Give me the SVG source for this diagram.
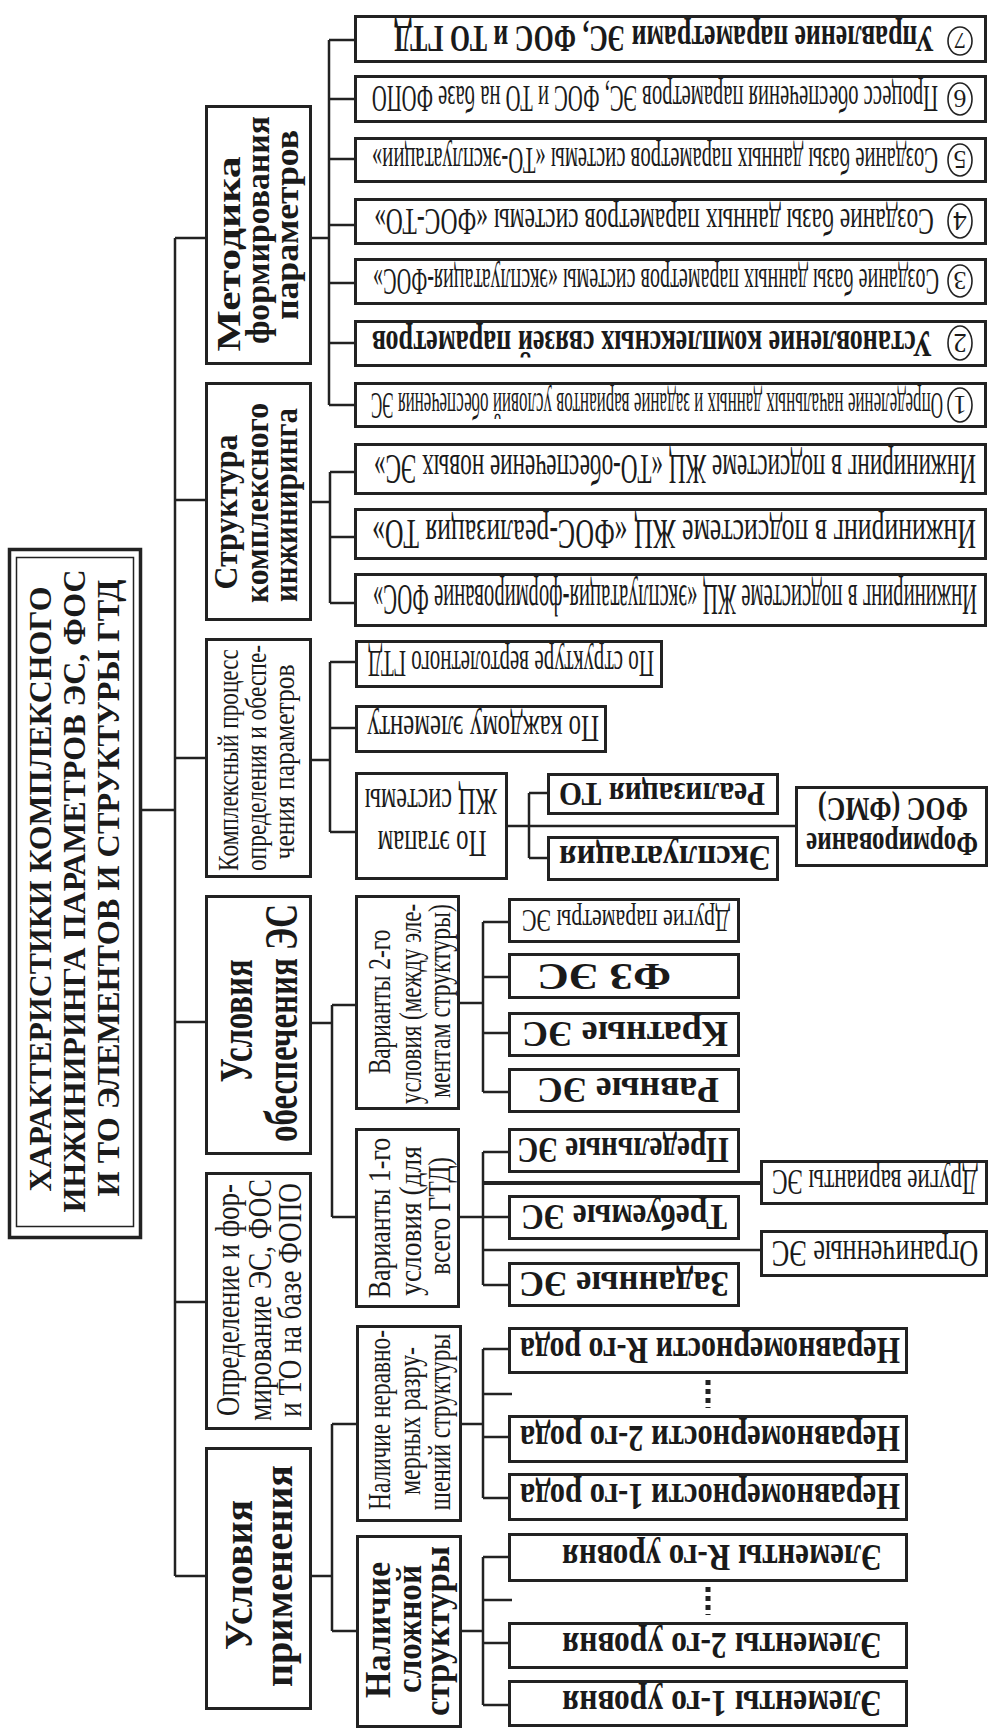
<svg xmlns="http://www.w3.org/2000/svg" width="988" height="1728" viewBox="0 0 988 1728">
<style>
.bg{fill:#fff}
.box{fill:#fff;stroke:#222;stroke-width:3}
.ln{stroke:#222;stroke-width:2.5;fill:none}
.lnb{stroke:#222;stroke-width:4;fill:none}
.dots{stroke:#222;stroke-width:5;stroke-dasharray:5 4;fill:none}
.ov{fill:none;stroke:#222;stroke-width:1.6}
text{font-family:"Liberation Serif","Times New Roman",serif;fill:#1a1a1a;text-anchor:middle}
.b{font-weight:bold}
</style>
<rect class="bg" x="0" y="0" width="988" height="1728"/>

<g id="connectors">
<path class="ln" d="M142 810H175M175 238V1576M175 238H205M175 500H205M175 758H205M175 1022H205M175 1302H205M175 1576H205"/>
<path class="ln" d="M312 238H329M329 40V405M329 40H354M329 99H354M329 159H354M329 225H354M329 283H354M329 343H354M329 405H354"/>
<path class="ln" d="M312 502H330M330 472V603M330 472H354M330 537H354M330 603H354"/>
<path class="ln" d="M312 760H330M330 662V832M330 662H355M330 728H355M330 832H355"/>
<path class="ln" d="M508 826H795M529 793V858M529 793H547M529 858H547"/>
<path class="ln" d="M312 1023H332M332 1005V1217M332 1005H355M332 1217H355"/>
<path class="ln" d="M460 1003H483M483 922V1092M483 922H508M483 977H508M483 1033H508M483 1092H508"/>
<path class="ln" d="M460 1217H483M483 1152V1285M483 1152H508M483 1217H508M483 1285H508M483 1250H760"/>
<path class="lnb" d="M483 1183H760"/>
<path class="ln" d="M312 1576H332M332 1424V1631M332 1424H356M332 1631H356"/>
<path class="ln" d="M462 1424H483M483 1349V1498M483 1349H508M483 1394H512M483 1437H508M483 1498H508"/>
<path class="ln" d="M462 1631H483M483 1557V1705M483 1557H508M483 1600H512M483 1643H508M483 1705H508"/>
<path class="dots" d="M708 1380V1408M708 1587V1615"/>
</g>

<g id="root">
<rect x="9.5" y="549.5" width="131" height="688" fill="#fff" stroke="#222" stroke-width="3.5"/>
<rect x="16.5" y="557.5" width="117" height="669" fill="none" stroke="#222" stroke-width="1.5"/>
<text class="b" font-size="32" transform="translate(51,889) rotate(-90)" textLength="605" lengthAdjust="spacingAndGlyphs">ХАРАКТЕРИСТИКИ КОМПЛЕКСНОГО</text>
<text class="b" font-size="32" transform="translate(85,891) rotate(-90)" textLength="643" lengthAdjust="spacingAndGlyphs">ИНЖИНИРИНГА ПАРАМЕТРОВ  ЭС, ФОС</text>
<text class="b" font-size="32" transform="translate(119,888) rotate(-90)" textLength="617" lengthAdjust="spacingAndGlyphs">И ТО ЭЛЕМЕНТОВ И СТРУКТУРЫ ГТД</text>
</g>

<g id="n-metodika">
<rect class="box" x="206.5" y="106.5" width="104" height="257"/>
<text class="b" font-size="33" transform="translate(240,254) rotate(-90)" textLength="195" lengthAdjust="spacingAndGlyphs">Методика</text>
<text class="b" font-size="33" transform="translate(269,230) rotate(-90)" textLength="228" lengthAdjust="spacingAndGlyphs">формирования</text>
<text class="b" font-size="33" transform="translate(298,225) rotate(-90)" textLength="190" lengthAdjust="spacingAndGlyphs">параметров</text>
</g>

<g id="n-struktura">
<rect class="box" x="206.5" y="383.5" width="104" height="236"/>
<text class="b" font-size="33" transform="translate(237,512) rotate(-90)" textLength="155" lengthAdjust="spacingAndGlyphs">Структура</text>
<text class="b" font-size="33" transform="translate(268,503) rotate(-90)" textLength="200" lengthAdjust="spacingAndGlyphs">комплексного</text>
<text class="b" font-size="33" transform="translate(297,505) rotate(-90)" textLength="194" lengthAdjust="spacingAndGlyphs">инжиниринга</text>
</g>

<g id="n-kompleks">
<rect class="box" x="206.5" y="639.5" width="104" height="237"/>
<text font-size="30" transform="translate(238,760) rotate(-90) scale(0.86,1)" textLength="258" lengthAdjust="spacingAndGlyphs">Комплексный процесс</text>
<text font-size="30" transform="translate(266,758) rotate(-90) scale(0.78,1)" textLength="290" lengthAdjust="spacingAndGlyphs">определения и обеспе-</text>
<text font-size="30" transform="translate(294,762) rotate(-90) scale(0.84,1)" textLength="232" lengthAdjust="spacingAndGlyphs">чения параметров</text>
</g>

<g id="n-usloviya-obesp">
<rect class="box" x="206.5" y="896.5" width="104" height="257"/>
<text class="b" font-size="46" transform="translate(252,1021) rotate(-90) scale(0.7,1)" textLength="176" lengthAdjust="spacingAndGlyphs">Условия</text>
<text class="b" font-size="46" transform="translate(297,1023) rotate(-90) scale(0.7,1)" textLength="340" lengthAdjust="spacingAndGlyphs">обеспечения ЭС</text>
</g>

<g id="n-opredelenie">
<rect class="box" x="206.5" y="1173.5" width="104" height="255"/>
<text font-size="34" transform="translate(239,1300) rotate(-90)" textLength="232" lengthAdjust="spacingAndGlyphs">Определение и фор-</text>
<text font-size="34" transform="translate(271,1300) rotate(-90)" textLength="242" lengthAdjust="spacingAndGlyphs">мирование ЭС, ФОС</text>
<text font-size="34" transform="translate(301,1300) rotate(-90)" textLength="234" lengthAdjust="spacingAndGlyphs">и ТО на базе ФОПО</text>
</g>

<g id="n-usloviya-prim">
<rect class="box" x="206.5" y="1448.5" width="104" height="260"/>
<text class="b" font-size="41" transform="translate(252,1575) rotate(-90)" textLength="150" lengthAdjust="spacingAndGlyphs">Условия</text>
<text class="b" font-size="41" transform="translate(292,1576) rotate(-90)" textLength="222" lengthAdjust="spacingAndGlyphs">применения</text>
</g>

<g id="m7">
<rect class="box" x="355.5" y="16.5" width="630" height="45"/>
<ellipse class="ov" cx="960" cy="41" rx="12" ry="14"/>
<text font-size="24" transform="translate(960,33) rotate(180)">7</text>
<text class="b" font-size="38" transform="translate(664,26.2) rotate(180) scale(0.74,1)" textLength="730" lengthAdjust="spacingAndGlyphs">Управление параметрами ЭС, ФОС и ТО ГТД</text>
</g>
<g id="m6">
<rect class="box" x="355.5" y="76.5" width="630" height="45"/>
<ellipse class="ov" cx="960" cy="99" rx="12" ry="16"/>
<text font-size="26" transform="translate(960,90) rotate(180)">6</text>
<text font-size="38" transform="translate(655,86.2) rotate(180) scale(0.58,1)" textLength="976" lengthAdjust="spacingAndGlyphs">Процесс обеспечения параметров ЭС, ФОС и ТО на базе ФОПО</text>
</g>
<g id="m5">
<rect class="box" x="355.5" y="138.5" width="630" height="43"/>
<ellipse class="ov" cx="960" cy="160" rx="12" ry="16"/>
<text font-size="26" transform="translate(960,151) rotate(180)">5</text>
<text font-size="37" transform="translate(655,147.5) rotate(180) scale(0.57,1)" textLength="993" lengthAdjust="spacingAndGlyphs">Создание базы данных параметров системы «ТО-эксплуатации»</text>
</g>
<g id="m4">
<rect class="box" x="355.5" y="199.5" width="630" height="44"/>
<ellipse class="ov" cx="960" cy="221" rx="12" ry="17"/>
<text font-size="27" transform="translate(960,212) rotate(180)">4</text>
<text font-size="37" transform="translate(654,209) rotate(180) scale(0.66,1)" textLength="848" lengthAdjust="spacingAndGlyphs">Создание базы данных параметров системы «ФОС-ТО»</text>
</g>
<g id="m3">
<rect class="box" x="355.5" y="259.5" width="630" height="44"/>
<ellipse class="ov" cx="960" cy="281" rx="12" ry="16"/>
<text font-size="26" transform="translate(960,272) rotate(180)">3</text>
<text font-size="37" transform="translate(656,269) rotate(180) scale(0.55,1)" textLength="1029" lengthAdjust="spacingAndGlyphs">Создание базы данных параметров системы «эксплуатация-ФОС»</text>
</g>
<g id="m2">
<rect class="box" x="355.5" y="321.5" width="630" height="44"/>
<ellipse class="ov" cx="960" cy="343" rx="12" ry="17"/>
<text font-size="27" transform="translate(960,334) rotate(180)">2</text>
<text class="b" font-size="37" transform="translate(652,331) rotate(180) scale(0.7,1)" textLength="800" lengthAdjust="spacingAndGlyphs">Установление комплексных связей параметров</text>
</g>
<g id="m1">
<rect class="box" x="355.5" y="383.5" width="630" height="43"/>
<ellipse class="ov" cx="960" cy="405" rx="12" ry="17"/>
<text font-size="27" transform="translate(960,396) rotate(180)">1</text>
<text font-size="37" transform="translate(657,392.5) rotate(180) scale(0.47,1)" textLength="1217" lengthAdjust="spacingAndGlyphs">Определение начальных данных  и задание вариантов условий обеспечения ЭС</text>
</g>

<g id="s1">
<rect class="box" x="355.5" y="444.5" width="630" height="49"/>
<text font-size="42" transform="translate(675,454.8) rotate(180) scale(0.585,1)" textLength="1029" lengthAdjust="spacingAndGlyphs">Инжиниринг в подсистеме ЖЦ «ТО-обеспечение новых ЭС»</text>
</g>
<g id="s2">
<rect class="box" x="355.5" y="509.5" width="630" height="49"/>
<text font-size="42" transform="translate(674,519.8) rotate(180) scale(0.66,1)" textLength="915" lengthAdjust="spacingAndGlyphs">Инжиниринг в подсистеме ЖЦ «ФОС-реализация ТО»</text>
</g>
<g id="s3">
<rect class="box" x="355.5" y="574.5" width="630" height="51"/>
<text font-size="44" transform="translate(675,585.2) rotate(180) scale(0.49,1)" textLength="1233" lengthAdjust="spacingAndGlyphs">Инжиниринг в подсистеме ЖЦ «эксплуатация-формирование ФОС»</text>
</g>

<g id="k1">
<rect class="box" x="356.5" y="641.5" width="305" height="45"/>
<text font-size="38" transform="translate(511,651.2) rotate(180) scale(0.55,1)" textLength="520" lengthAdjust="spacingAndGlyphs">По структуре вертолетного ГТД</text>
</g>
<g id="k2">
<rect class="box" x="356.5" y="706.5" width="249" height="45"/>
<text font-size="38" transform="translate(483,716.2) rotate(180) scale(0.68,1)" textLength="341" lengthAdjust="spacingAndGlyphs">По каждому элементу</text>
</g>
<g id="k3">
<rect class="box" x="356.5" y="773.5" width="150" height="105"/>
<text font-size="38" transform="translate(432,831) rotate(180) scale(0.68,1)" textLength="160" lengthAdjust="spacingAndGlyphs">По этапам</text>
<text font-size="38" transform="translate(431,789) rotate(180) scale(0.7,1)" textLength="189" lengthAdjust="spacingAndGlyphs">ЖЦ системы</text>
</g>
<g id="k3a">
<rect class="box" x="548.5" y="774.5" width="229" height="39"/>
<text class="b" font-size="33" transform="translate(662,782.9) rotate(180)" textLength="206" lengthAdjust="spacingAndGlyphs">Реализация ТО</text>
</g>
<g id="k3b">
<rect class="box" x="548.5" y="837.5" width="229" height="42"/>
<text class="b" font-size="36" transform="translate(665,846.4) rotate(180)" textLength="212" lengthAdjust="spacingAndGlyphs">Эксплуатация</text>
</g>
<g id="k3c">
<rect class="box" x="796.5" y="787.5" width="190" height="78"/>
<text class="b" font-size="34" transform="translate(893,798) rotate(180)" textLength="150" lengthAdjust="spacingAndGlyphs">ФОС (ФМС)</text>
<text class="b" font-size="34" transform="translate(892,833) rotate(180)" textLength="172" lengthAdjust="spacingAndGlyphs">Формирование</text>
</g>

<g id="v2">
<rect class="box" x="356.5" y="896.5" width="102" height="212"/>
<text font-size="32" transform="translate(390,1002) rotate(-90) scale(0.72,1)" textLength="201" lengthAdjust="spacingAndGlyphs">Варианты 2-го</text>
<text font-size="32" transform="translate(421,1004) rotate(-90) scale(0.71,1)" textLength="282" lengthAdjust="spacingAndGlyphs">условия (между эле-</text>
<text font-size="32" transform="translate(450,1001) rotate(-90) scale(0.74,1)" textLength="262" lengthAdjust="spacingAndGlyphs">ментам структуры)</text>
</g>
<g id="v1">
<rect class="box" x="356.5" y="1129.5" width="102" height="177"/>
<text font-size="32" transform="translate(390,1218) rotate(-90) scale(0.79,1)" textLength="203" lengthAdjust="spacingAndGlyphs">Варианты 1-го</text>
<text font-size="32" transform="translate(421,1221) rotate(-90) scale(0.8,1)" textLength="187" lengthAdjust="spacingAndGlyphs">условия (для</text>
<text font-size="32" transform="translate(450,1216) rotate(-90) scale(0.75,1)" textLength="157" lengthAdjust="spacingAndGlyphs">всего ГТД)</text>
</g>

<g id="c1">
<rect class="box" x="509.5" y="899.5" width="229" height="42"/>
<text font-size="32" transform="translate(626,910) rotate(180) scale(0.72,1)" textLength="289" lengthAdjust="spacingAndGlyphs">Другие параметры ЭС</text>
</g>
<g id="c2">
<rect class="box" x="509.5" y="954.5" width="229" height="43"/>
<text class="b" font-size="37" transform="translate(604,963.5) rotate(180)" textLength="134" lengthAdjust="spacingAndGlyphs">ФЗ ЭС</text>
</g>
<g id="c3">
<rect class="box" x="509.5" y="1013.5" width="229" height="42"/>
<text class="b" font-size="36" transform="translate(625,1022.4) rotate(180)" textLength="206" lengthAdjust="spacingAndGlyphs">Кратные ЭС</text>
</g>
<g id="c4">
<rect class="box" x="509.5" y="1069.5" width="229" height="42"/>
<text class="b" font-size="36" transform="translate(628,1078.4) rotate(180)" textLength="182" lengthAdjust="spacingAndGlyphs">Равные ЭС</text>
</g>
<g id="c5">
<rect class="box" x="509.5" y="1129.5" width="229" height="42"/>
<text class="b" font-size="36" transform="translate(623,1138.4) rotate(180) scale(0.84,1)" textLength="252" lengthAdjust="spacingAndGlyphs">Предельные ЭС</text>
</g>
<g id="c6">
<rect class="box" x="509.5" y="1196.5" width="229" height="42"/>
<text class="b" font-size="36" transform="translate(624,1205.4) rotate(180) scale(0.9,1)" textLength="229" lengthAdjust="spacingAndGlyphs">Требуемые ЭС</text>
</g>
<g id="c7">
<rect class="box" x="509.5" y="1263.5" width="229" height="42"/>
<text class="b" font-size="36" transform="translate(624,1272.4) rotate(180)" textLength="210" lengthAdjust="spacingAndGlyphs">Заданные ЭС</text>
</g>
<g id="c8">
<rect class="box" x="761.5" y="1161.5" width="225" height="42"/>
<text font-size="36" transform="translate(875,1170.4) rotate(180) scale(0.67,1)" textLength="307" lengthAdjust="spacingAndGlyphs">Другие варианты ЭС</text>
</g>
<g id="c9">
<rect class="box" x="761.5" y="1231.5" width="225" height="44"/>
<text font-size="37" transform="translate(875,1241) rotate(180) scale(0.77,1)" textLength="268" lengthAdjust="spacingAndGlyphs">Ограниченные ЭС</text>
</g>

<g id="p1">
<rect class="box" x="357.5" y="1326.5" width="103" height="194"/>
<text font-size="32" transform="translate(390,1420) rotate(-90) scale(0.75,1)" textLength="240" lengthAdjust="spacingAndGlyphs">Наличие неравно-</text>
<text font-size="32" transform="translate(420,1421) rotate(-90) scale(0.73,1)" textLength="203" lengthAdjust="spacingAndGlyphs">мерных разру-</text>
<text font-size="32" transform="translate(450,1422) rotate(-90) scale(0.77,1)" textLength="229" lengthAdjust="spacingAndGlyphs">шений структуры</text>
</g>
<g id="p2">
<rect class="box" x="357.5" y="1536.5" width="103" height="190"/>
<text class="b" font-size="35" transform="translate(390,1630) rotate(-90)" textLength="136" lengthAdjust="spacingAndGlyphs">Наличие</text>
<text class="b" font-size="35" transform="translate(421,1629) rotate(-90)" textLength="128" lengthAdjust="spacingAndGlyphs">сложной</text>
<text class="b" font-size="35" transform="translate(449,1631) rotate(-90)" textLength="170" lengthAdjust="spacingAndGlyphs">структуры</text>
</g>

<g id="n-r">
<rect class="box" x="509.5" y="1328.5" width="397" height="44"/>
<text class="b" font-size="37" transform="translate(710,1338) rotate(180) scale(0.78,1)" textLength="487" lengthAdjust="spacingAndGlyphs">Неравномерности R-го рода</text>
</g>
<g id="n-2">
<rect class="box" x="509.5" y="1416.5" width="397" height="45"/>
<text class="b" font-size="38" transform="translate(710,1426.2) rotate(180) scale(0.76,1)" textLength="500" lengthAdjust="spacingAndGlyphs">Неравномерности 2-го рода</text>
</g>
<g id="n-1">
<rect class="box" x="509.5" y="1474.5" width="397" height="45"/>
<text class="b" font-size="38" transform="translate(710,1484.2) rotate(180) scale(0.76,1)" textLength="500" lengthAdjust="spacingAndGlyphs">Неравномерности 1-го рода</text>
</g>
<g id="e-r">
<rect class="box" x="509.5" y="1534.5" width="397" height="46"/>
<text class="b" font-size="38" transform="translate(722,1544.8) rotate(180) scale(0.81,1)" textLength="395" lengthAdjust="spacingAndGlyphs">Элементы R-го уровня</text>
</g>
<g id="e-2">
<rect class="box" x="509.5" y="1623.5" width="397" height="44"/>
<text class="b" font-size="37" transform="translate(722,1633) rotate(180) scale(0.83,1)" textLength="385" lengthAdjust="spacingAndGlyphs">Элементы 2-го уровня</text>
</g>
<g id="e-1">
<rect class="box" x="509.5" y="1681.5" width="397" height="44"/>
<text class="b" font-size="37" transform="translate(722,1691) rotate(180) scale(0.83,1)" textLength="385" lengthAdjust="spacingAndGlyphs">Элементы 1-го уровня</text>
</g>
</svg>
